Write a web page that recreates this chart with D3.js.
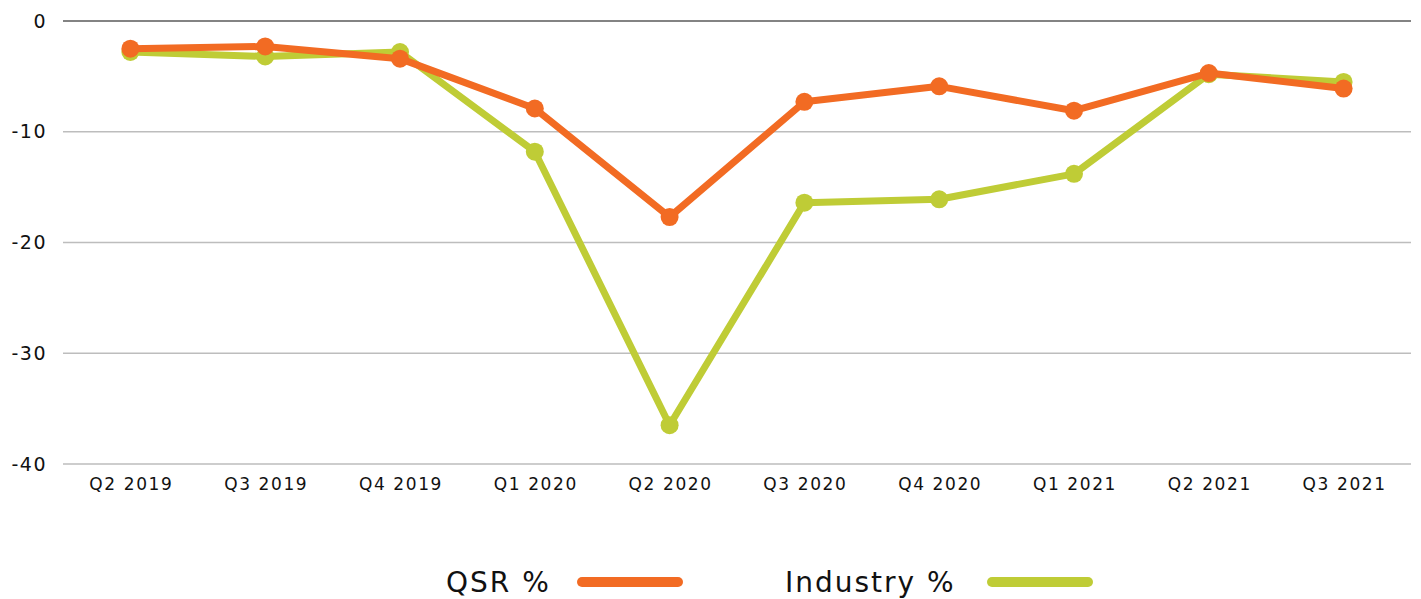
<!DOCTYPE html>
<html>
<head>
<meta charset="utf-8">
<script src="https://cdn.jsdelivr.net/npm/d3@7"></script>
<style>
  body { margin: 0; background: #fff; }
  text { font-family: "DejaVu Sans", "Noto Sans", sans-serif; fill: #111; }
</style>
</head>
<body>
<div id="chart"></div>
<script>
// data
let quarters = ["Q2 2019", "Q3 2019", "Q4 2019", "Q1 2020", "Q2 2020", "Q3 2020", "Q4 2020", "Q1 2021", "Q2 2021", "Q3 2021"];
let qsr = [-2.5, -2.3, -3.4, -7.9, -17.7, -7.3, -5.9, -8.1, -4.7, -6.1];
let industry = [-2.8, -3.2, -2.8, -11.8, -36.5, -16.4, -16.1, -13.8, -4.8, -5.5];
let yTicks = [0, -10, -20, -30, -40];

let width = 1421, height = 599;
let margin = { left: 63, right: 10, top: 21, bottom: 135 };
let chart_width = width - margin.left - margin.right;
let chart_height = height - margin.top - margin.bottom;

let svg = d3.select("#chart").append("svg")
  .attr("width", width)
  .attr("height", height);

let g = svg.append("g")
  .attr("transform", `translate(${margin.left},${margin.top})`);

let x = d3.scaleBand().domain(quarters).range([0, chart_width]);
let y = d3.scaleLinear().domain([-40, 0]).range([chart_height, 0]);

// gridlines
g.selectAll(".grid")
  .data(yTicks)
  .enter()
  .append("line")
  .attr("x1", 0)
  .attr("x2", chart_width)
  .attr("y1", d => y(d))
  .attr("y2", d => y(d))
  .attr("stroke", d => d === 0 ? "#5a5a5a" : "#bdbdbd")
  .attr("stroke-width", 1.5);

// y axis labels (plain hyphen like the original)
g.append("g")
  .call(d3.axisLeft(y).tickValues(yTicks).tickSize(0).tickPadding(16).tickFormat(d => String(d)))
  .call(a => a.select(".domain").remove())
  .selectAll("text")
  .style("font-size", "19px")
  .style("letter-spacing", "1.5px")
  .attr("fill", "#111");

// x axis labels
g.append("g")
  .attr("transform", `translate(0,${chart_height})`)
  .call(d3.axisBottom(x).tickSize(0).tickPadding(14))
  .call(a => a.select(".domain").remove())
  .selectAll("text")
  .style("font-size", "17px")
  .style("letter-spacing", "1.6px")
  .attr("dx", "1px")
  .attr("fill", "#111");

let series = [
  { name: "Industry %", values: industry, color: "#bfcc36" },
  { name: "QSR %", values: qsr, color: "#f26b23" }
];

let line = d3.line()
  .x((d, i) => x(quarters[i]) + x.bandwidth() / 2)
  .y(d => y(d));

series.forEach(s => {
  g.append("path")
    .datum(s.values)
    .attr("fill", "none")
    .attr("stroke", s.color)
    .attr("stroke-width", 7)
    .attr("stroke-linejoin", "round")
    .attr("d", line);
  g.selectAll(null)
    .data(s.values)
    .enter()
    .append("circle")
    .attr("cx", (d, i) => x(quarters[i]) + x.bandwidth() / 2)
    .attr("cy", d => y(d))
    .attr("r", 9)
    .attr("fill", s.color);
});

// legend
let legendItems = [
  { name: "QSR %", color: "#f26b23", tx: 446, lx: 582 },
  { name: "Industry %", color: "#bfcc36", tx: 785, lx: 992 }
];
let legend = svg.append("g");
legendItems.forEach(l => {
  legend.append("text")
    .attr("x", l.tx)
    .attr("y", 592)
    .style("font-size", "28px")
    .style("letter-spacing", "2px")
    .text(l.name);
  legend.append("line")
    .attr("x1", l.lx)
    .attr("x2", l.lx + 96)
    .attr("y1", 582)
    .attr("y2", 582)
    .attr("stroke", l.color)
    .attr("stroke-width", 10)
    .attr("stroke-linecap", "round");
});
</script>
</body>
</html>
